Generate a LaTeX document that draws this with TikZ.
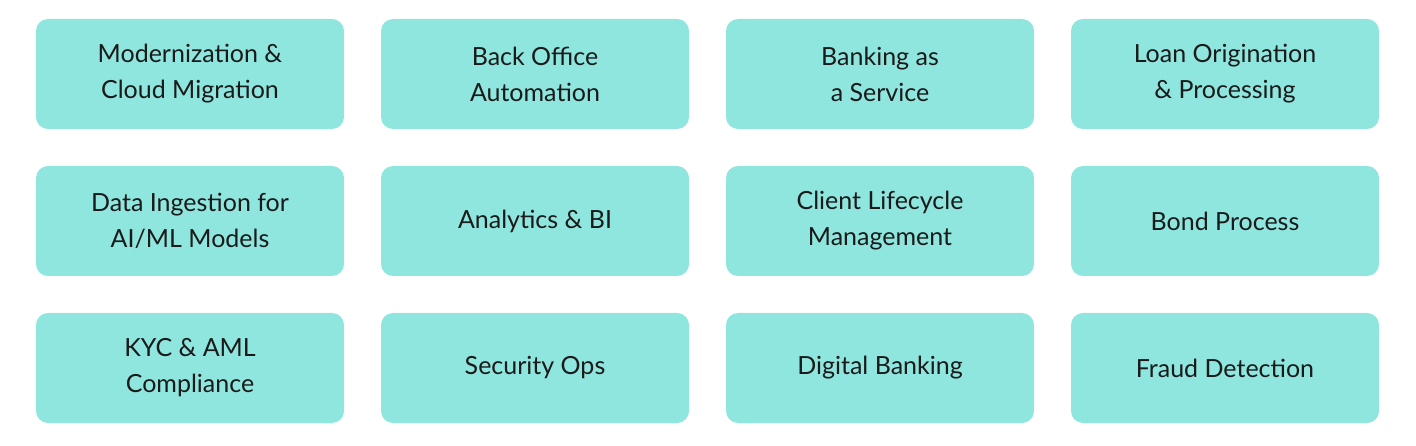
\documentclass[tikz,border=0pt]{standalone}
\usepackage{fontspec}
\setmainfont{Lato}
\definecolor{boxc}{HTML}{8EE6DE}
\definecolor{txt}{HTML}{1A1A1A}
\begin{document}
\begin{tikzpicture}[x=1pt,y=-1pt,
  tile/.style={fill=boxc,draw=none,rounded corners=12pt,minimum width=308pt,minimum height=110pt,
    align=center,font=\fontsize{25}{36}\selectfont,text=txt,inner sep=0pt}]
\useasboundingbox (0,0) rectangle (1416,446);
\node[tile] (a1) at (190,74) {Modernization \&\\Cloud Migration};
\node[tile] (a2) at (535,74) {Back Office\\Automation};
\node[tile] (a3) at (880,74) {Banking as\\a Service};
\node[tile] (a4) at (1225,74) {Loan Origination\\\& Processing};
\node[tile] (b1) at (190,221) {Data Ingestion for\\AI/ML Models};
\node[tile] (b2) at (535,221) {Analytics \& BI};
\node[tile] (b3) at (880,221) {Client Lifecycle\\Management};
\node[tile] (b4) at (1225,221) {Bond Process};
\node[tile] (c1) at (190,368) {KYC \& AML\\Compliance};
\node[tile] (c2) at (535,368) {Security Ops};
\node[tile] (c3) at (880,368) {Digital Banking};
\node[tile] (c4) at (1225,368) {Fraud Detection};
\end{tikzpicture}
\end{document}
